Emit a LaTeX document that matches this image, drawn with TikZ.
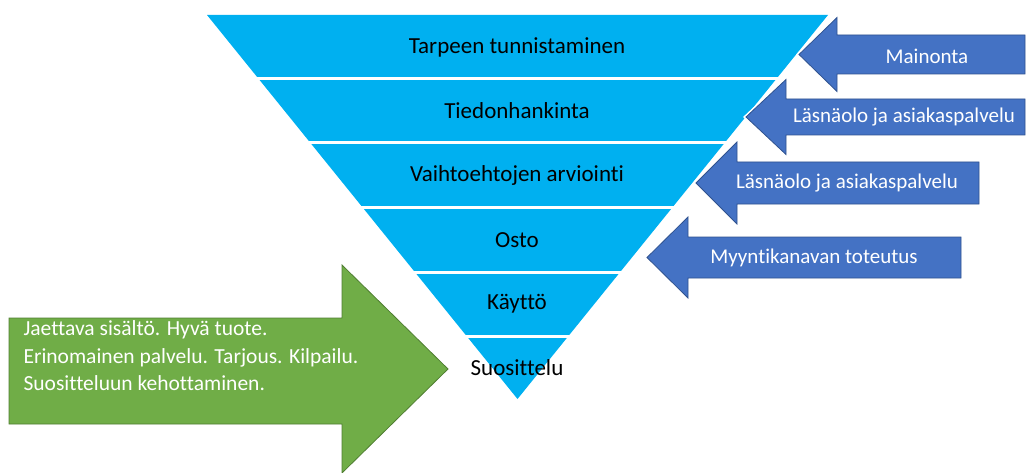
\documentclass[tikz,border=0pt]{standalone}
\usepackage{fontspec}
\setmainfont{Carlito}[Ligatures={NoCommon,NoContextual,NoRequired},Contextuals={NoAlternate}]
\definecolor{funnel}{HTML}{00B0F0}
\definecolor{bluearr}{HTML}{4472C4}
\definecolor{bluebord}{HTML}{2F528F}
\definecolor{greenarr}{HTML}{70AD47}
\definecolor{greenbord}{HTML}{507E32}
\begin{document}
\begin{tikzpicture}[x=1pt,y=-1pt,
  bandtext/.style={font=\fontsize{23}{27}\selectfont, text=black},
  arrtext/.style={font=\fontsize{21}{25}\selectfont, text=white},
  bluearrow/.style={fill=bluearr, draw=bluebord, line width=0.8pt,
    preaction={draw=white, line width=4pt}},
  greenarrow/.style={fill=greenarr, draw=greenbord, line width=0.8pt},
  sep/.style={draw=white, line width=3pt}]
\useasboundingbox (0,0) rectangle (1027,473);
% funnel
\fill[funnel] (207,15) -- (828,15) -- (517.5,399) -- cycle;
\foreach \y in {79,143,207,272,336}{
  \pgfmathsetmacro\d{0.8086*(\y-15)}
  \draw[sep] ({207+\d-2},\y) -- ({828-\d+2},\y);
}
\node[bandtext] (b1) at (517,47) {Tarpeen tunnistaminen};
\node[bandtext] (b2) at (517,111) {Tiedonhankinta};
\node[bandtext] (b3) at (517,175) {Vaihtoehtojen arviointi};
\node[bandtext] (b4) at (517,240) {Osto};
\node[bandtext] (b5) at (517,304) {Käyttö};
\node[bandtext] (b6) at (517,368) {Suosittelu};
% blue arrows
\newcommand\leftarr[6]{% tipx, cy, headback, headhalf, shafthalf, right
  \draw[bluearrow] (#1,#2) -- (#3,#2-#4) -- (#3,#2-#5) -- (#6,#2-#5)
    -- (#6,#2+#5) -- (#3,#2+#5) -- (#3,#2+#4) -- cycle;}
\leftarr{799}{54.5}{837}{37}{19.5}{1025}
\leftarr{746}{117}{786}{37.5}{18}{1025}
\leftarr{696}{183}{737}{41}{21}{979}
\leftarr{647}{257.5}{688}{40.5}{20.5}{961}
\node[arrtext] (a1) at (927,56) {Mainonta};
\node[arrtext] (a2) at (904,117) {Läsnäolo ja asiakaspalvelu};
\node[arrtext] (a3) at (847,183) {Läsnäolo ja asiakaspalvelu};
\node[arrtext] (a4) at (814,258) {Myyntikanavan toteutus};
% green arrow
\draw[greenarrow] (9,318) -- (342,318) -- (342,265) -- (448,369)
  -- (342,473) -- (342,424) -- (9,424) -- cycle;
\node[arrtext, anchor=west, align=left, font=\fontsize{21.5}{27.5}\selectfont]
  (g) at (20,356) {Jaettava sisältö. Hyvä tuote.\\Erinomainen palvelu. Tarjous. Kilpailu.\\Suositteluun kehottaminen.};
\end{tikzpicture}
\end{document}
